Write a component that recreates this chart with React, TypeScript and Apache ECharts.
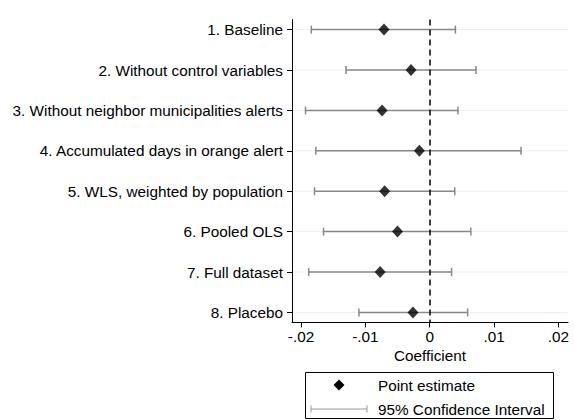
import React, { useEffect, useRef } from "react";
import * as echarts from "echarts";

const categories = [
  "1. Baseline",
  "2. Without control variables",
  "3. Without neighbor municipalities alerts",
  "4. Accumulated days in orange alert",
  "5. WLS, weighted by population",
  "6. Pooled OLS",
  "7. Full dataset",
  "8. Placebo",
];
const pointEstimates = [-0.0071, -0.0029, -0.0074, -0.0016, -0.0070, -0.0050, -0.0077, -0.0026];
const ciLower = [-0.0184, -0.0130, -0.0193, -0.0177, -0.0179, -0.0165, -0.0188, -0.0110];
const ciUpper = [0.0040, 0.0072, 0.0044, 0.0142, 0.0039, 0.0064, 0.0034, 0.0059];
const xTickValues = [-0.02, -0.01, 0, 0.01, 0.02];
const xTickLabels = ["-.02", "-.01", "0", ".01", ".02"];
const legendLabels = ["Point estimate", "95% Confidence Interval"];

const FONT = "'Liberation Sans', Arial, Helvetica, sans-serif";
const FS = 15.3;

export default function App() {
  const ref = useRef<HTMLDivElement>(null);
  useEffect(() => {
    if (!ref.current) return;
    const chart = echarts.init(ref.current, null, { renderer: "svg" });
    const yValues = categories.map((_, i) => i + 1);
    const ciData = categories.map((_, i) => [ciLower[i], ciUpper[i], i + 1]);
    const ptData = categories.map((_, i) => [pointEstimates[i], i + 1]);
    const option: any = {
      animation: false,
      backgroundColor: "#ffffff",
      textStyle: { fontFamily: FONT },
      grid: { left: 292, top: 19.5, right: 7, height: 303 },
      xAxis: {
        type: "value",
        min: -0.0214,
        max: 0.0215,
        name: "Coefficient",
        nameLocation: "middle",
        nameGap: 22,
        nameTextStyle: { color: "#000", fontSize: FS, fontFamily: FONT },
        axisLine: { show: true, onZero: false, lineStyle: { color: "#000", width: 1 } },
        axisTick: { show: true, length: 5, customValues: xTickValues, lineStyle: { color: "#000" } },
        axisLabel: {
          customValues: xTickValues,
          color: "#000",
          fontSize: FS,
          fontFamily: FONT,
          margin: 6,
          formatter: (v: number) => {
            const idx = xTickValues.findIndex((t) => Math.abs(t - v) < 1e-9);
            return idx >= 0 ? xTickLabels[idx] : "";
          },
        },
        splitLine: { show: false },
      },
      yAxis: {
        type: "value",
        inverse: true,
        min: 0.75,
        max: 8.25,
        axisLine: { show: true, onZero: false, lineStyle: { color: "#000", width: 1 } },
        axisTick: { show: true, length: 5, customValues: yValues, lineStyle: { color: "#000" } },
        axisLabel: {
          customValues: yValues,
          color: "#000",
          fontSize: FS,
          fontFamily: FONT,
          margin: 9,
          formatter: (v: number) => categories[Math.round(v) - 1] ?? "",
        },
        splitLine: { show: false },
      },
      series: [
        {
          type: "custom",
          name: legendLabels[1],
          z: 1,
          data: ciData,
          encode: { x: [0, 1], y: 2 },
          renderItem: (params: any, api: any) => {
            const lo = api.coord([api.value(0), api.value(2)]);
            const hi = api.coord([api.value(1), api.value(2)]);
            const cs = params.coordSys;
            const cap = 4;
            const col = "#888888";
            return {
              type: "group",
              children: [
                {
                  type: "line",
                  shape: { x1: cs.x + 1, y1: lo[1], x2: cs.x + cs.width, y2: lo[1] },
                  style: { stroke: "#e7eff1", lineWidth: 1 },
                  z2: 0,
                },
                {
                  type: "line",
                  shape: { x1: lo[0], y1: lo[1], x2: hi[0], y2: hi[1] },
                  style: { stroke: col, lineWidth: 1.5 },
                  z2: 1,
                },
                {
                  type: "line",
                  shape: { x1: lo[0], y1: lo[1] - cap, x2: lo[0], y2: lo[1] + cap },
                  style: { stroke: col, lineWidth: 1.5 },
                  z2: 1,
                },
                {
                  type: "line",
                  shape: { x1: hi[0], y1: hi[1] - cap, x2: hi[0], y2: hi[1] + cap },
                  style: { stroke: col, lineWidth: 1.5 },
                  z2: 1,
                },
              ],
            };
          },
        },
        {
          type: "scatter",
          name: legendLabels[0],
          z: 3,
          data: ptData,
          symbol: "diamond",
          symbolSize: [11, 12],
          itemStyle: { color: "#000" },
          markLine: {
            silent: true,
            symbol: "none",
            label: { show: false },
            lineStyle: { color: "#000", type: [6, 4], width: 1.5 },
            data: [{ xAxis: 0 }],
            z: 2,
          },
        },
      ],
      graphic: [
        {
          type: "rect",
          shape: { x: 305.5, y: 372.5, width: 248, height: 46 },
          style: { fill: "#fff", stroke: "#000", lineWidth: 1 },
        },
        {
          type: "polygon",
          shape: { points: [[339, 379.5], [344.5, 385], [339, 390.5], [333.5, 385]] },
          style: { fill: "#000" },
        },
        {
          type: "text",
          x: 378,
          y: 385,
          style: { text: legendLabels[0], fill: "#000", fontSize: FS, fontFamily: FONT, verticalAlign: "middle" },
        },
        {
          type: "line",
          shape: { x1: 311, y1: 409, x2: 367, y2: 409 },
          style: { stroke: "#999", lineWidth: 1 },
        },
        {
          type: "line",
          shape: { x1: 311, y1: 405.5, x2: 311, y2: 412.5 },
          style: { stroke: "#999", lineWidth: 1 },
        },
        {
          type: "line",
          shape: { x1: 367, y1: 405.5, x2: 367, y2: 412.5 },
          style: { stroke: "#999", lineWidth: 1 },
        },
        {
          type: "text",
          x: 378,
          y: 409,
          style: { text: legendLabels[1], fill: "#000", fontSize: FS, fontFamily: FONT, verticalAlign: "middle" },
        },
      ],
    };
    chart.setOption(option);
    return () => chart.dispose();
  }, []);
  return (
    <div
      ref={ref}
      style={{ position: "fixed", left: 0, top: 0, width: 575, height: 420, background: "#fff" }}
    />
  );
}
